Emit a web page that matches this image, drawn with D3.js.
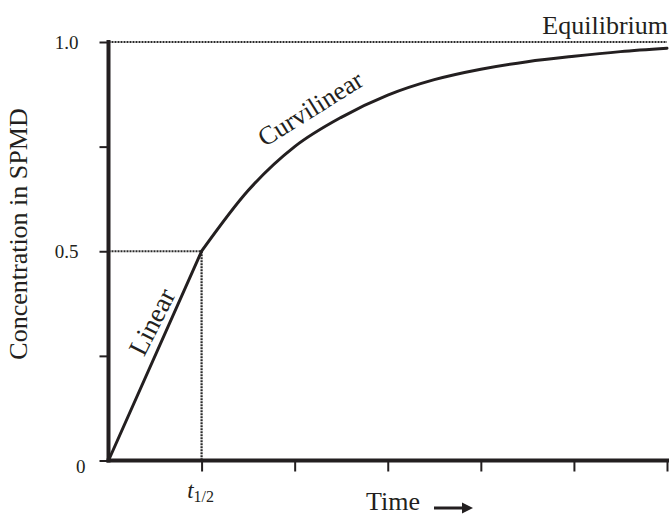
<!DOCTYPE html>
<html>
<head>
<meta charset="utf-8">
<script src="https://cdn.jsdelivr.net/npm/d3@7"></script>
<style>
  html, body { margin: 0; padding: 0; background: #fff; }
  svg text { font-family: "Liberation Serif", "Times New Roman", serif; fill: #231f20; }
</style>
</head>
<body>
<svg id="chart" width="672" height="515"></svg>
<script>
// ---- data ----
const linearTime = [0, 1];
const linearConc = [0, 0.5];
const curveTime = [1, 1.5, 2, 2.5, 3, 3.5, 4, 4.5, 5, 5.5, 6];
const curveConc = [0.5, 0.645, 0.75, 0.82, 0.873, 0.91, 0.935, 0.953, 0.966, 0.977, 0.985];
const halfTime = 1;
const halfConc = 0.5;
const equilibriumConc = 1.0;
const xTicks = [1, 2, 3, 4, 5, 6];
const yTicks = [0, 0.25, 0.5, 0.75, 1.0];
const yTickLabels = {0: "0", 0.5: "0.5", 1: "1.0"};

// ---- layout ----
const svg = d3.select("#chart");
const x = d3.scaleLinear().domain([0, 6]).range([108.5, 667]);
const y = d3.scaleLinear().domain([0, 1]).range([460.5, 42]);
const ink = "#231f20";

// reference dotted lines
const dotted = svg.append("g")
  .attr("stroke", "#2a2a2a").attr("stroke-width", 2.2).attr("stroke-dasharray", "2,1").attr("fill", "none");
dotted.append("line")
  .attr("x1", x(0)).attr("x2", x(6)).attr("y1", y(equilibriumConc)).attr("y2", y(equilibriumConc));
dotted.append("line")
  .attr("x1", x(0)).attr("x2", x(halfTime)).attr("y1", y(halfConc)).attr("y2", y(halfConc));
dotted.append("line")
  .attr("x1", x(halfTime)).attr("x2", x(halfTime)).attr("y1", y(halfConc)).attr("y2", y(0));

// axes
const yAxis = d3.axisLeft(y).tickValues(yTicks).tickSize(9).tickPadding(21)
  .tickFormat(d => yTickLabels[d] !== undefined ? yTickLabels[d] : "");
const gy = svg.append("g").attr("transform", `translate(${x(0)},0)`).call(yAxis);
const xAxis = d3.axisBottom(x).tickValues(xTicks).tickSize(11).tickFormat("");
const gx = svg.append("g").attr("transform", `translate(0,${y(0)})`).call(xAxis);

[gx, gy].forEach(g => {
  g.select(".domain").attr("stroke", ink).attr("stroke-width", 4);
  g.selectAll(".tick line").attr("stroke", ink).attr("stroke-width", 2);
  g.selectAll(".tick text").style("font-size", "19px").attr("fill", ink);
});
gy.select(".domain").attr("d", `M0,${y(0) + 2}V${y(1) - 2}`);
gx.select(".domain").attr("d", `M${x(0) - 2},0H${x(6) + 2}`);
gy.selectAll(".tick").filter(d => d === 0).select("text").attr("dx", 7).attr("dy", "0.62em");

// curve
const line = d3.line().x(d => x(d[0])).y(d => y(d[1]));
svg.append("path")
  .datum(linearTime.map((t, i) => [t, linearConc[i]]))
  .attr("d", line.curve(d3.curveLinear))
  .attr("fill", "none").attr("stroke", ink).attr("stroke-width", 3).attr("stroke-linecap", "round");
svg.append("path")
  .datum(curveTime.map((t, i) => [t, curveConc[i]]))
  .attr("d", line.curve(d3.curveMonotoneX))
  .attr("fill", "none").attr("stroke", ink).attr("stroke-width", 3).attr("stroke-linecap", "round");

// labels
svg.append("text").attr("x", 668).attr("y", 34).attr("text-anchor", "end")
  .style("font-size", "26px").text("Equilibrium");
svg.append("text").attr("transform", "translate(315,116) rotate(-32)").attr("text-anchor", "middle")
  .style("font-size", "26px").text("Curvilinear");
svg.append("text").attr("transform", "translate(160,326) rotate(-63)").attr("text-anchor", "middle")
  .style("font-size", "27px").text("Linear");
svg.append("text").attr("transform", "translate(27,234) rotate(-90)").attr("text-anchor", "middle")
  .style("font-size", "26px").text("Concentration in SPMD");
svg.append("text").attr("x", 366).attr("y", 510).style("font-size", "26px").text("Time");

// t1/2 label
const th = svg.append("text").attr("x", x(halfTime) - 1).attr("y", 498).attr("text-anchor", "middle");
th.append("tspan").style("font-size", "23px").style("font-style", "italic").text("t");
th.append("tspan").attr("dy", 4).style("font-size", "16px").text("1/2");

// arrow
svg.append("line").attr("x1", 434).attr("x2", 463).attr("y1", 508).attr("y2", 508)
  .attr("stroke", ink).attr("stroke-width", 3);
svg.append("path").attr("d", "M462,502.5L473,508L462,513.5Z").attr("fill", ink);
</script>
</body>
</html>
